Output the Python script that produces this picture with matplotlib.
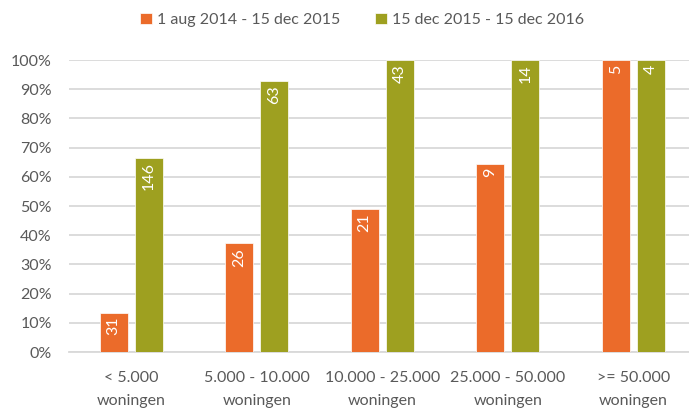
import matplotlib
matplotlib.use("Agg")
import matplotlib.pyplot as plt
import numpy as np

categories = ["< 5.000\nwoningen", "5.000 - 10.000\nwoningen", "10.000 - 25.000\nwoningen",
              "25.000 - 50.000\nwoningen", ">= 50.000\nwoningen"]
series_names = ["1 aug 2014 - 15 dec 2015", "15 dec 2015 - 15 dec 2016"]
pct_2015 = [13.5, 37.2, 49.0, 64.5, 100.0]
pct_2016 = [66.4, 92.8, 100.0, 100.0, 100.0]
counts_2015 = [31, 26, 21, 9, 5]
counts_2016 = [146, 63, 43, 14, 4]
yticks = [0, 10, 20, 30, 40, 50, 60, 70, 80, 90, 100]

orange = "#EB6B2A"
green = "#9EA020"
plt.rcParams['font.family'] = ['Lato', 'DejaVu Sans']

fig = plt.figure(figsize=(6.89, 4.08), dpi=100)
W, H = 689, 408
left, right, top, bottom = 68.5, 696, 60, 352
ax = fig.add_axes([left / W, 1 - bottom / H, (right - left) / W, (bottom - top) / H])

x = np.arange(len(categories))
bw = 0.223
off = 0.14
b1 = ax.bar(x - off, pct_2015, bw, color=orange, label=series_names[0], zorder=3,
            edgecolor="white", linewidth=0.5)
b2 = ax.bar(x + off, pct_2016, bw, color=green, label=series_names[1], zorder=3,
            edgecolor="white", linewidth=0.5)

for bars, counts in ((b1, counts_2015), (b2, counts_2016)):
    for rect, c in zip(bars, counts):
        ax.text(rect.get_x() + rect.get_width() / 2, rect.get_height() - 1.5, str(c),
                rotation=90, ha="center", va="top", color="white", fontsize=11.5, zorder=4)

ax.set_xlim(-0.5, len(categories) - 0.5)
ax.set_ylim(0, 100)
ax.set_yticks(yticks)
ax.set_yticklabels([f"{t}%" for t in yticks])
ax.set_xticks(x)
ax.set_xticklabels(categories, linespacing=1.8)
ax.yaxis.grid(True, color="#D9D9D9", linewidth=1.3, zorder=0)
ax.set_axisbelow(True)
for s in ["top", "right", "left"]:
    ax.spines[s].set_visible(False)
ax.spines["bottom"].set_color("#D9D9D9")
ax.spines["bottom"].set_linewidth(1.3)
ax.tick_params(axis="both", length=0, labelsize=11.5, colors="#595959")
ax.tick_params(axis="x", pad=14)
ax.tick_params(axis="y", pad=12)

leg = fig.legend(loc="center", bbox_to_anchor=(362 / W, 1 - 20 / H), ncol=2, frameon=False,
                 fontsize=11.5, handlelength=0.75, handleheight=0.75, handletextpad=0.3,
                 columnspacing=2.2, labelcolor="#595959")

fig.savefig("out.png", dpi=100)
